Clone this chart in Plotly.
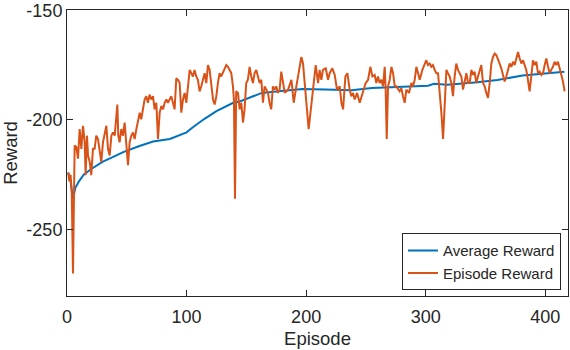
import plotly.graph_objects as go

# Episode reward (episode, reward)
episode = [
    1, 2, 3, 4, 5, 6, 6.4, 7.8, 9.2, 10.6, 12.0, 13.4, 14.8, 15.6, 16.7, 17.6, 19.0, 20.3,
    21.7, 23.1, 24.5, 25.9, 27.3, 28.7, 30.1, 31.5, 32.9, 34.3, 35.7, 37.1, 38.5, 39.9,
    41.2, 42.1, 42.9, 44.0, 45.4, 46.8, 48.2, 49.6, 51.0, 52.4, 53.8, 55.2, 56.6, 58.0,
    59.4, 60.8, 62.1, 63.5, 64.9, 66.3, 67.7, 69.1, 70.5, 71.9, 73.3, 74.7, 76.1, 77.5,
    78.9, 80.3, 81.7, 83.1, 84.4, 85.8, 87.2, 88.6, 90.0, 91.4, 92.8, 94.2, 95.6, 97.0,
    98.4, 99.8, 101.2, 102.6, 104.0, 105.3, 106.7, 108.1, 109.5, 110.9, 112.3, 113.7,
    115.1, 116.5, 117.9, 119.3, 120.7, 122.1, 123.5, 124.9, 126.2, 127.6, 129.0, 130.4,
    131.8, 133.2, 134.6, 136.0, 137.4, 138.8, 139.6, 140.5, 141.5, 143.0, 144.4, 145.8,
    147.2, 148.5, 149.9, 151.3, 152.7, 154.1, 155.5, 156.9, 158.3, 159.7, 161.1, 162.5,
    163.9, 165.3, 166.7, 168.1, 169.4, 170.8, 172.2, 173.6, 175.0, 176.4, 177.8, 179.2,
    182.1, 184.9, 187.7, 189.6, 191.8, 194.1, 196.0, 197.4, 198.8, 200.2, 202.1, 204.4,
    205.8, 208.0, 210.0, 211.3, 212.7, 214.1, 216.4, 218.3, 219.7, 221.9, 223.9, 225.8,
    228.1, 229.5, 230.9, 232.8, 234.5, 236.4, 237.8, 239.2, 240.6, 242.6, 244.8, 247.6,
    249.8, 251.8, 253.7, 255.4, 257.3, 258.7, 260.1, 261.5, 262.9, 264.3, 265.7, 266.5,
    267.4, 268.5, 269.9, 271.3, 272.7, 274.1, 275.4, 278.2, 279.6, 281.0, 282.4, 283.8,
    286.0, 288.0, 289.4, 290.8, 292.2, 293.6, 295.0, 297.2, 299.1, 300.5, 301.9, 303.3,
    304.7, 306.1, 307.5, 308.9, 310.3, 311.7, 313.1, 314.5, 315.9, 317.3, 318.6, 320.0,
    321.4, 322.8, 324.2, 325.6, 327.0, 328.4, 329.8, 331.2, 332.6, 334.0, 335.4, 336.8,
    338.2, 339.5, 340.9, 342.3, 343.7, 345.1, 346.5, 347.9, 349.3, 350.7, 352.1, 353.5,
    354.9, 356.3, 357.7, 359.1, 360.4, 361.8, 363.2, 364.6, 366.0, 367.4, 368.8, 370.2,
    371.6, 373.0, 374.4, 375.8, 377.2, 378.6, 380.0, 381.4, 382.7, 384.1, 385.5, 386.9,
    388.3, 389.7, 391.1, 392.5, 393.9, 395.3, 396.7, 398.1, 399.5, 400.9, 402.3, 403.7,
    405.0, 406.4, 407.8, 409.2, 410.6, 412.0, 413.4, 414.8, 416.2,
]
episode_reward = [
    -224, -228, -225, -234, -270, -232, -211.7, -212.4, -217.7, -204.2, -213.2, -202.7,
    -210.2, -225.2, -207.2, -216.2, -219.2, -225.2, -213.2, -213.2, -207.2, -208.7,
    -214.7, -219.2, -210.2, -205.7, -202.7, -213.2, -216.2, -207.2, -205.7, -207.2,
    -199.7, -193.0, -207.2, -210.2, -204.2, -207.2, -201.2, -210.2, -220.7, -210.2,
    -207.2, -205.7, -208.7, -204.2, -199.7, -196.7, -199.7, -195.2, -190.7, -189.2,
    -192.2, -188.5, -190.7, -189.2, -195.2, -192.2, -208.7, -196.7, -193.7, -195.2,
    -192.2, -190.7, -192.2, -190.7, -189.2, -192.2, -195.2, -181.0, -181.7, -183.2,
    -196.7, -190.7, -187.7, -192.2, -183.2, -177.2, -178.7, -180.2, -177.2, -180.2,
    -181.7, -187.0, -184.7, -181.7, -178.7, -183.2, -175.0, -177.2, -184.7, -190.7,
    -193.0, -189.2, -183.2, -178.7, -180.2, -178.7, -177.2, -175.0, -175.8, -177.2,
    -178.7, -184.7, -190.7, -236.0, -187.0, -187.7, -195.2, -192.2, -201.2, -195.2,
    -183.2, -181.7, -175.8, -180.2, -183.2, -178.7, -177.2, -180.2, -183.2, -181.7,
    -192.2, -184.7, -186.2, -187.7, -192.2, -195.2, -184.7, -186.2, -184.7, -187.7,
    -186.2, -178.0, -187.7, -186.2, -181.7, -192.2, -184.7, -177.2, -171.3, -174.3,
    -184.7, -192.2, -204.2, -192.2, -184.7, -175.0, -183.2, -177.2, -181.7, -177.2,
    -176.5, -181.7, -178.7, -176.5, -179.5, -186.2, -184.7, -192.2, -195.2, -180.2,
    -178.7, -186.2, -189.2, -187.7, -190.7, -187.7, -192.2, -187.7, -183.2, -181.7,
    -175.8, -180.2, -179.5, -183.2, -180.2, -183.2, -181.7, -184.7, -175.8, -186.2,
    -208.7, -184.7, -181.7, -175.8, -178.7, -184.7, -184.7, -187.0, -185.5, -189.2,
    -192.2, -186.2, -187.7, -183.2, -184.7, -181.7, -175.8, -178.7, -181.7, -177.2,
    -174.3, -172.8, -175.0, -174.3, -175.8, -175.0, -177.2, -178.7, -178.7, -186.2,
    -196.7, -208.7, -190.7, -177.2, -178.7, -180.2, -183.2, -189.2, -180.2, -174.3,
    -177.2, -178.7, -180.2, -186.2, -181.7, -178.7, -183.2, -183.2, -177.2, -179.5,
    -178.0, -183.2, -180.2, -177.2, -175.0, -183.2, -184.7, -187.7, -190.0, -183.2,
    -174.3, -171.3, -169.8, -170.5, -172.0, -174.3, -176.5, -180.2, -182.5, -180.2,
    -177.2, -174.3, -175.8, -173.5, -175.0, -172.0, -169.0, -172.0, -174.3, -172.8,
    -175.0, -177.2, -181.7, -187.0, -180.2, -172.8, -175.0, -173.5, -178.7, -178.0,
    -179.5, -178.7, -175.0, -172.0, -175.8, -178.7, -177.2, -175.8, -173.5, -175.0,
    -173.5, -176.5, -178.7, -182.5, -187.0,
]

# Average reward
avg_episode = [1, 3, 5, 7, 10, 14, 20, 25, 30, 40, 47, 60, 72, 86, 100, 105, 115, 125,
               139, 145, 152, 163, 177, 197, 216, 238, 255, 288, 302, 307, 318, 341,
               360, 381, 400, 416]
avg_reward = [-224, -228, -236, -231, -228, -225, -222.5, -220.7, -219, -216.5, -214.7,
              -212, -209.9, -208.7, -205.7, -203.5, -199.5, -196, -192.2, -191.5, -190,
              -187.7, -187, -185.9, -186.2, -186.5, -185.5, -184.7, -184.4, -183.5, -184,
              -182.9, -181.8, -179.8, -179, -178]

# tick labels (MATLAB style uses a plain hyphen)
x_ticks = [0, 100, 200, 300, 400]
y_ticks = [-250, -200, -150]
y_tick_text = ["-250", "-200", "-150"]

FONT = "Liberation Sans, Arial, Helvetica, sans-serif"
INK = "#262626"

fig = go.Figure()
fig.add_trace(go.Scatter(x=avg_episode, y=avg_reward, mode="lines", name="Average Reward",
                         line=dict(color="#0072BD", width=2)))
fig.add_trace(go.Scatter(x=episode, y=episode_reward, mode="lines", name="Episode Reward",
                         line=dict(color="#D95319", width=2)))

axis_common = dict(
    showline=True, mirror="ticks", linecolor=INK, linewidth=1,
    ticks="inside", ticklen=6, tickcolor=INK, showgrid=False, zeroline=False,
    tickfont=dict(family=FONT, size=18, color=INK), ticklabeloverflow="allow",
)
fig.update_layout(
    width=570, height=350,
    margin=dict(l=67, r=1, t=6, b=54),
    paper_bgcolor="white", plot_bgcolor="white",
    font=dict(family=FONT, color=INK),
    xaxis=dict(range=[0, 419], tickvals=x_ticks, ticklabelstandoff=4,
               title=dict(text="Episode", font=dict(family=FONT, size=18.5, color=INK), standoff=6),
               **axis_common),
    yaxis=dict(range=[-280.3, -149.9], tickvals=y_ticks, ticktext=y_tick_text,
               title=dict(text="Reward", font=dict(family=FONT, size=18.5, color=INK), standoff=6),
               **axis_common),
    legend=dict(x=0.986, y=0.02, xanchor="right", yanchor="bottom",
                bgcolor="white", bordercolor=INK, borderwidth=1,
                font=dict(family=FONT, size=15, color=INK),
                tracegroupgap=0, itemwidth=30),
    showlegend=True,
)

fig.write_html("out.html", config={"displayModeBar": False},
               post_script="document.body.style.margin='0';")
